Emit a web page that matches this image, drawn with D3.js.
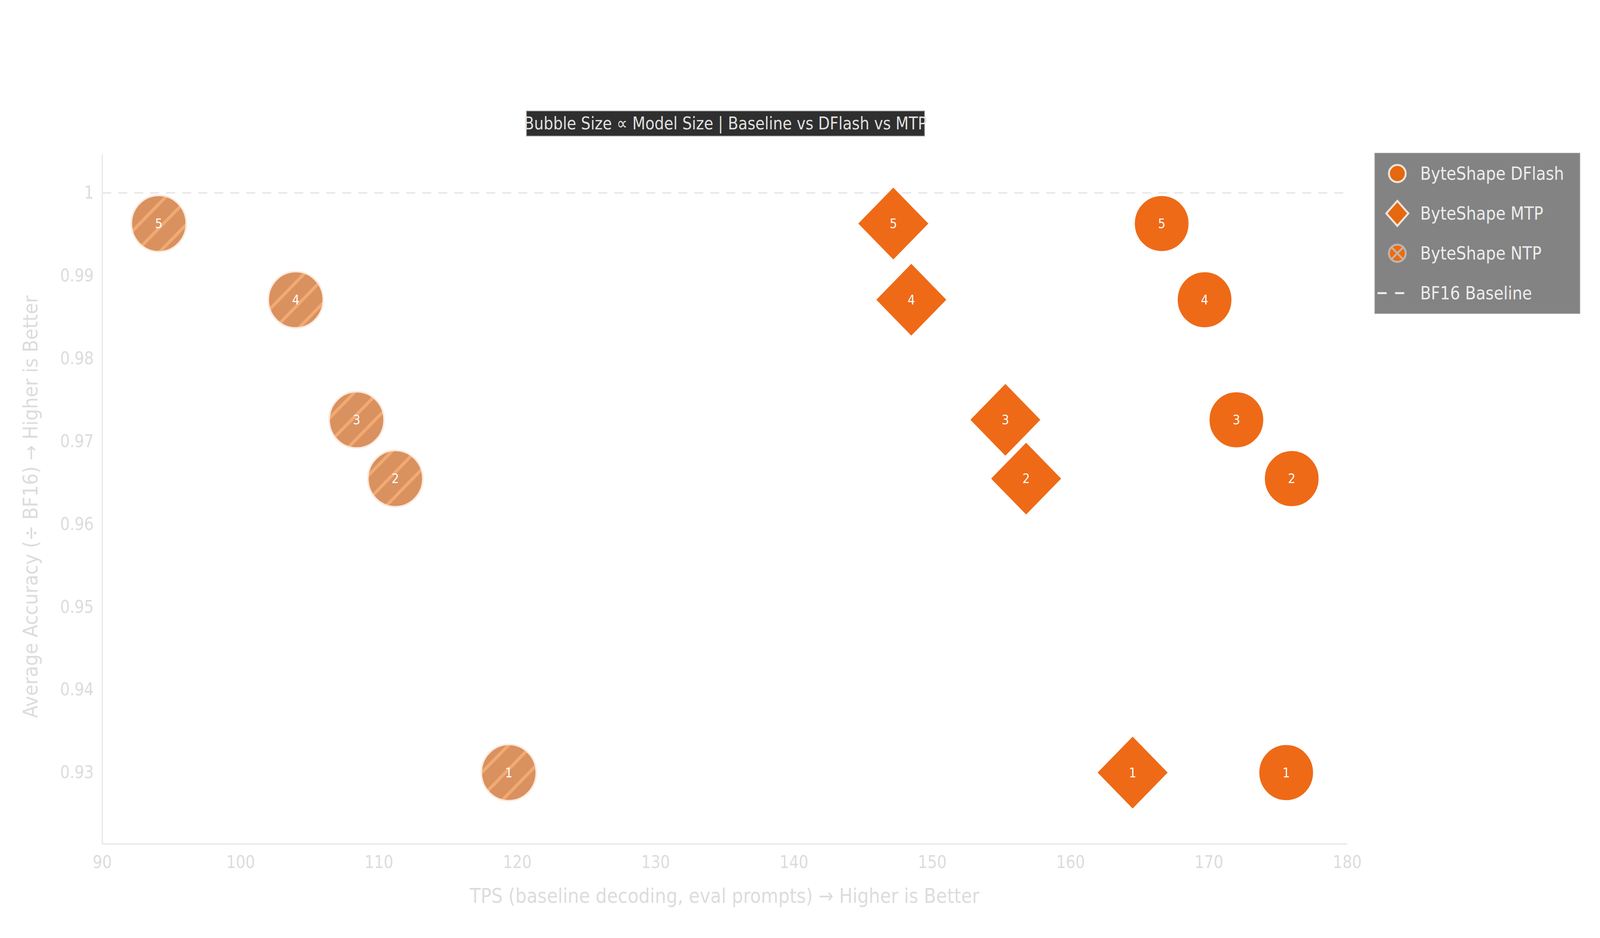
<!DOCTYPE html>
<html><head><meta charset="utf-8">
<script src="https://cdn.jsdelivr.net/npm/d3@7"></script>
<style>html,body{margin:0;padding:0;background:#fff;overflow:hidden}svg{display:block;width:100vw;height:100vh}</style>
</head><body>
<svg id="c" viewBox="0 0 4200 2400" preserveAspectRatio="none"></svg>
<script>
const labels=["1","2","3","4","5"];
const dflashTPS=[175.6,176.0,172.0,169.7,166.6];
const mtpTPS=[164.5,156.8,155.3,148.5,147.2];
const ntpTPS=[119.4,111.2,108.4,104.0,94.1];
const accuracy=[0.930,0.9655,0.9726,0.9871,0.9963];
const xTicks=[90,100,110,120,130,140,150,160,170,180];
const yTicks=[0.93,0.94,0.95,0.96,0.97,0.98,0.99,1];
const legendItems=["ByteShape DFlash","ByteShape MTP","ByteShape NTP","BF16 Baseline"];

const FONT="'DejaVu Sans Condensed','DejaVu Sans',sans-serif";
const svg=d3.select("#c");
const L=268,R=3536,T=394,B=2159;
const x=d3.scaleLinear().domain([90,180]).range([L,R]);
const y=d3.scaleLinear().domain([0.9214,1.0047]).range([B,T]);
const orange="#ee6a17";

const defs=svg.append("defs");
const pat=defs.append("pattern").attr("id","hatch").attr("patternUnits","userSpaceOnUse")
 .attr("width",44).attr("height",44).attr("patternTransform","rotate(45)");
pat.append("rect").attr("width",44).attr("height",44).attr("fill","#d9915f");
pat.append("rect").attr("x",0).attr("width",8).attr("height",44).attr("fill","#f2aa74");

const xa=svg.append("g").attr("transform",`translate(0,${B})`).call(d3.axisBottom(x).tickValues(xTicks).tickSize(0).tickPadding(22));
const ya=svg.append("g").attr("transform",`translate(${L},0)`).call(d3.axisLeft(y).tickValues(yTicks).tickFormat(d=>d===1?"1":d3.format(".2f")(d)).tickSize(0).tickPadding(22));
[xa,ya].forEach(a=>{a.select(".domain").attr("stroke","#e6e6e6").attr("stroke-width",3);
 a.selectAll("text").attr("fill","#dcdcdc").attr("font-size",44).attr("font-family",FONT);});
xa.selectAll("text").attr("dy","0.9em");

svg.append("text").attr("x",(L+R)/2).attr("y",2310).attr("text-anchor","middle").attr("fill","#dcdcdc")
 .attr("font-size",52).attr("font-family",FONT).text("TPS (baseline decoding, eval prompts) → Higher is Better");
svg.append("text").attr("transform",`translate(98,${(T+B)/2+20}) rotate(-90)`).attr("text-anchor","middle").attr("fill","#dcdcdc")
 .attr("font-size",52).attr("font-family",FONT).text("Average Accuracy (÷ BF16) → Higher is Better");

svg.append("line").attr("x1",L).attr("x2",R).attr("y1",y(1)).attr("y2",y(1)).attr("stroke","#e8e8e8")
 .attr("stroke-width",4).attr("stroke-dasharray","24,18");

const rad=72, dia=94;
function lbl(cx,cy,t){svg.append("text").attr("x",cx).attr("y",cy).attr("dy","0.35em").attr("text-anchor","middle")
 .attr("fill","#fff").attr("font-size",34).attr("font-family",FONT).text(t);}
ntpTPS.forEach((v,i)=>{svg.append("circle").attr("cx",x(v)).attr("cy",y(accuracy[i])).attr("r",rad)
 .attr("fill","url(#hatch)").attr("stroke","#fbe9dc").attr("stroke-width",4);lbl(x(v),y(accuracy[i]),labels[i]);});
mtpTPS.forEach((v,i)=>{const cx=x(v),cy=y(accuracy[i]);
 svg.append("path").attr("d",`M${cx},${cy-dia}L${cx+dia},${cy}L${cx},${cy+dia}L${cx-dia},${cy}Z`)
 .attr("fill",orange).attr("stroke","#fff").attr("stroke-width",3);lbl(cx,cy,labels[i]);});
dflashTPS.forEach((v,i)=>{svg.append("circle").attr("cx",x(v)).attr("cy",y(accuracy[i])).attr("r",rad)
 .attr("fill",orange).attr("stroke","#fff").attr("stroke-width",3);lbl(x(v),y(accuracy[i]),labels[i]);});

svg.append("rect").attr("x",1382).attr("y",284).attr("width",1045).attr("height",64).attr("fill","#2f2f2f").attr("stroke","#999").attr("stroke-width",2);
svg.append("text").attr("x",1904).attr("y",316).attr("dy","0.35em").attr("text-anchor","middle").attr("fill","#e0e0e0")
 .attr("font-size",44).attr("font-family",FONT).text("Bubble Size ∝ Model Size | Baseline vs DFlash vs MTP");

const lg=svg.append("g");
lg.append("rect").attr("x",3609).attr("y",392).attr("width",538).attr("height",410).attr("fill","#838383").attr("stroke","#999").attr("stroke-width",2);
legendItems.forEach((t,i)=>{const cy=444+i*102, cx=3668;
 if(i===0) lg.append("circle").attr("cx",cx).attr("cy",cy).attr("r",22).attr("fill","#e5680e").attr("stroke","#f0e4dc").attr("stroke-width",5);
 if(i===1) lg.append("path").attr("d",`M${cx},${cy-32}L${cx+29},${cy}L${cx},${cy+32}L${cx-29},${cy}Z`).attr("fill","#e5680e").attr("stroke","#f0e4dc").attr("stroke-width",5);
 if(i===2){lg.append("circle").attr("cx",cx).attr("cy",cy).attr("r",22).attr("fill","#f06a0a").attr("stroke","#bdb5b0").attr("stroke-width",5);
  lg.append("path").attr("d",`M${cx-15},${cy-15}L${cx+15},${cy+15}M${cx+15},${cy-15}L${cx-15},${cy+15}`).attr("stroke","#bdb5b0").attr("stroke-width",5);}
 if(i===3) lg.append("path").attr("d",`M3616,${cy}h24M3662,${cy}h24`).attr("stroke","#eee").attr("stroke-width",5);
 lg.append("text").attr("x",3728).attr("y",cy).attr("dy","0.35em").attr("fill","#ececec").attr("font-size",46).attr("font-family",FONT).text(t);
});
</script>
</body></html>
